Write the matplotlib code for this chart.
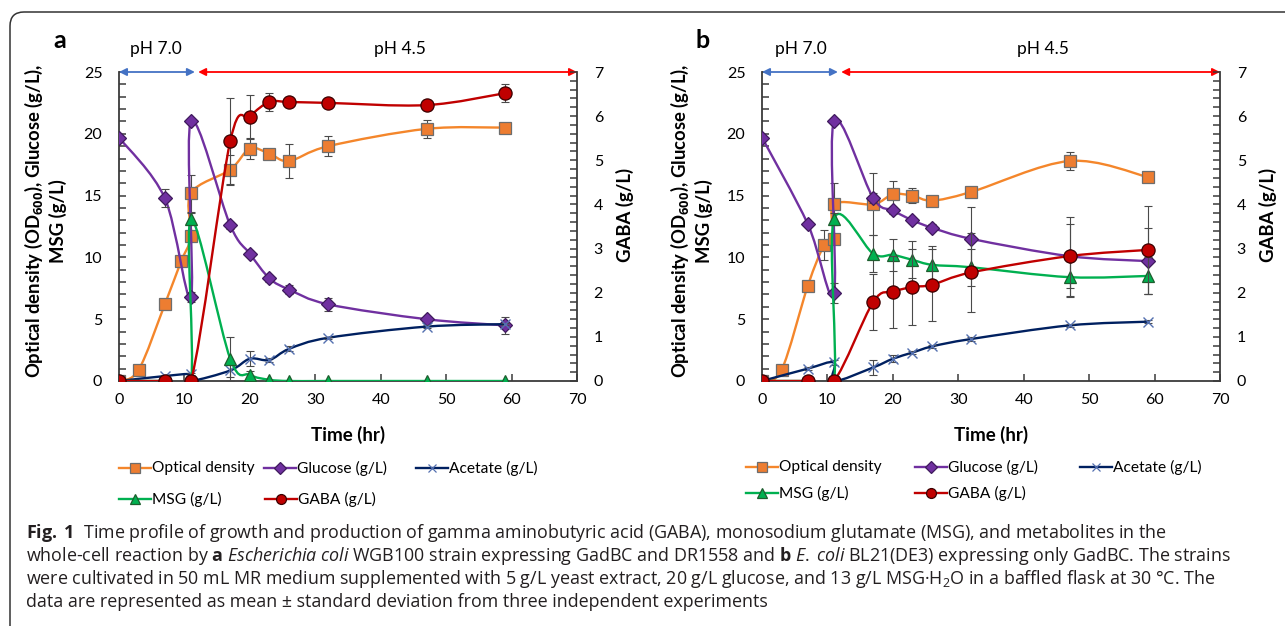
import numpy as np
import matplotlib
matplotlib.use("Agg")
import matplotlib.pyplot as plt
from matplotlib.path import Path
from matplotlib.patches import PathPatch, FancyBboxPatch
from matplotlib.lines import Line2D
from matplotlib.transforms import IdentityTransform
from matplotlib.ticker import MultipleLocator

# ---------------- data ----------------
series_names = ["Optical density", "Glucose (g/L)", "Acetate (g/L)", "MSG (g/L)", "GABA (g/L)"]

# panel a : E. coli WGB100 (GadBC + DR1558)
od_t_a = [0, 3, 7, 9.5, 11, 11, 17, 20, 23, 26, 32, 47, 59]
od_a = [0, 0.9, 6.2, 9.7, 11.7, 15.2, 17.1, 18.8, 18.4, 17.8, 19.0, 20.4, 20.5]
od_err_a = [0, 0.2, 0.3, 0, 0, 1.5, 1.2, 0.8, 0.3, 1.4, 0.8, 0.7, 0]

glc_t_a = [0, 7, 11, 11, 17, 20, 23, 26, 32, 47, 59]
glc_a = [19.7, 14.8, 6.8, 21.0, 12.6, 10.3, 8.3, 7.4, 6.2, 5.0, 4.5]
glc_err_a = [0.2, 0.7, 0.4, 0, 0.3, 0.2, 0.3, 0.4, 0.5, 0.2, 0.7]

ace_t_a = [0, 7, 11, 11, 17, 20, 23, 26, 32, 47, 59]
ace_a = [0, 0.4, 0.55, 0, 0.85, 1.8, 1.7, 2.6, 3.5, 4.4, 4.6]
ace_err_a = [0, 0.1, 0.1, 0, 0.5, 0.6, 0.2, 0.2, 0.1, 0.1, 0.1]

msg_t_a = [0, 7, 11, 11, 17, 20, 23, 26, 32, 47, 59]
msg_a = [0, 0, 0, 13.1, 1.8, 0.5, 0.1, 0, 0, 0, 0]
msg_err_a = [0, 0, 0, 0.5, 1.8, 0.3, 0, 0, 0, 0, 0]

gaba_t_a = [0, 7, 11, 17, 20, 23, 26, 32, 47, 59]
gaba_a = [0, 0, 0, 5.43, 5.99, 6.32, 6.32, 6.30, 6.25, 6.52]
gaba_err_a = [0, 0, 0, 0.98, 0.48, 0.2, 0.1, 0.05, 0.12, 0.2]

# panel b : E. coli BL21(DE3) (GadBC only)
od_t_b = [0, 3, 7, 9.5, 11, 11, 17, 20, 23, 26, 32, 47, 59]
od_b = [0, 0.9, 7.7, 11.0, 11.5, 14.3, 14.3, 15.1, 15.0, 14.6, 15.3, 17.8, 16.5]
od_err_b = [0, 0, 0, 1.2, 0, 1.7, 2.5, 1.1, 0.6, 0.3, 0, 0.7, 0]

glc_t_b = [0, 7, 11, 11, 17, 20, 23, 26, 32, 47, 59]
glc_b = [19.7, 12.7, 7.1, 21.0, 14.8, 13.8, 13.0, 12.4, 11.5, 10.1, 9.7]
glc_err_b = [0, 0, 0.8, 0, 0.4, 0.3, 0.2, 0.3, 2.6, 3.2, 2.7]

ace_t_b = [0, 7, 11, 11, 17, 20, 23, 26, 32, 47, 59]
ace_b = [0, 1.0, 1.5, 0, 1.1, 1.8, 2.3, 2.8, 3.4, 4.5, 4.8]
ace_err_b = [0, 0.1, 0.2, 0, 0.6, 0.3, 0.1, 0.1, 0.15, 0.1, 0.1]

msg_t_b = [0, 7, 11, 11, 17, 20, 23, 26, 32, 47, 59]
msg_b = [0, 0, 0, 13.1, 10.3, 10.2, 9.8, 9.4, 9.2, 8.4, 8.5]
msg_err_b = [0, 0, 0, 0.5, 1.5, 1.3, 1.5, 1.5, 1.5, 1.6, 1.5]

gaba_t_b = [0, 7, 11, 17, 20, 23, 26, 32, 47, 59]
gaba_b = [0, 0, 0, 1.79, 2.02, 2.13, 2.18, 2.46, 2.83, 2.97]
gaba_err_b = [0, 0, 0, 0.64, 0.81, 0.87, 0.81, 0.9, 0.73, 1.0]

x_ticks = [0, 10, 20, 30, 40, 50, 60, 70]

# ---------------- style ----------------
FONT = "Lato"
CAP_FONT = "Open Sans"
plt.rcParams["font.family"] = [FONT, "DejaVu Sans"]
plt.rcParams["mathtext.fontset"] = "custom"
plt.rcParams["mathtext.rm"] = CAP_FONT
plt.rcParams["mathtext.it"] = CAP_FONT + ":italic"
plt.rcParams["mathtext.bf"] = CAP_FONT + ":bold"

C_OD, C_GLC, C_ACE, C_MSG, C_GABA = "#F4862B", "#7030A0", "#002060", "#00B050", "#C00000"
styles = {
    "od": dict(color=C_OD, marker="s", mfc="#ED7D31", mec="#6d6d6d", ms=9),
    "glc": dict(color=C_GLC, marker="D", mfc="#7030A0", mec="#3f1a5c", ms=7.5),
    "ace": dict(color=C_ACE, marker="x", mfc="#5470B0", mec="#5470B0", ms=7),
    "msg": dict(color=C_MSG, marker="^", mfc="#00B050", mec="#1e5e2e", ms=9),
    "gaba": dict(color=C_GABA, marker="o", mfc="#C00000", mec="#3a0000", ms=9.5),
}
AXC = "#3a3a3a"
W, H = 1285, 626

fig = plt.figure(figsize=(W / 100, H / 100), dpi=100)


def smooth_path(x, y):
    P = np.column_stack([x, y]).astype(float)
    n = len(P)
    verts = [P[0]]
    codes = [Path.MOVETO]
    for i in range(n - 1):
        p0 = P[i - 1] if i > 0 else P[i]
        p1, p2 = P[i], P[i + 1]
        p3 = P[i + 2] if i + 2 < n else P[i + 1]
        verts += [p1 + (p2 - p0) / 6.0, p2 - (p3 - p1) / 6.0, p2]
        codes += [Path.CURVE4] * 3
    return Path(verts, codes)


def draw_series(ax, t, v, err, key, z):
    st = styles[key]
    ax.add_patch(PathPatch(smooth_path(t, v), fc="none", ec=st["color"], lw=1.7, zorder=z))
    t = np.asarray(t, float); v = np.asarray(v, float); e = np.asarray(err, float)
    m = e > 0
    if m.any():
        ax.errorbar(t[m], v[m], yerr=e[m], fmt="none", ecolor="#4a4a4a", elinewidth=0.8,
                    capsize=3, capthick=0.8, zorder=z + 0.1)
    ax.plot(t, v, ls="none", marker=st["marker"], mfc=st["mfc"], mec=st["mec"],
            ms=st["ms"], mew=0.9 if key != "ace" else 1.0, zorder=z + 0.2)


def panel(left_px, data, letter, ph7_x, ph45_x, ylab_x, glab_x):
    (odt, od, ode, gt, g, ge, at, a, ae, mt, m, me, bt, b, be) = data
    x0, x1, ytop, ybot = left_px, left_px + 458, 72, 381
    ax = fig.add_axes([x0 / W, 1 - ybot / H, (x1 - x0) / W, (ybot - ytop) / H])
    ax2 = ax.twinx()
    ax.set_xlim(0, 70); ax.set_ylim(0, 25)
    ax2.set_ylim(0, 7)
    ax.set_zorder(1); ax2.set_zorder(2)
    ax.patch.set_visible(False)
    draw_series(ax, odt, od, ode, "od", 2)
    draw_series(ax, gt, g, ge, "glc", 3)
    draw_series(ax, at, a, ae, "ace", 4)
    draw_series(ax, mt, m, me, "msg", 5)
    draw_series(ax2, bt, b, be, "gaba", 6)
    for a_ in (ax, ax2):
        a_.spines["top"].set_visible(False)
        for s in a_.spines.values():
            s.set_color(AXC); s.set_linewidth(1.3)
    ax.spines["right"].set_visible(False)
    ax2.spines["left"].set_visible(False); ax2.spines["bottom"].set_visible(False)
    ax.set_xticks(x_ticks)
    ax.xaxis.set_major_locator(MultipleLocator(10))
    ax.yaxis.set_major_locator(MultipleLocator(5))
    ax.yaxis.set_minor_locator(MultipleLocator(1))
    ax2.yaxis.set_major_locator(MultipleLocator(1))
    ax2.yaxis.set_minor_locator(MultipleLocator(0.2))
    ax.tick_params(axis="x", which="major", direction="in", length=5, width=1.1, color=AXC,
                   labelsize=11.5, pad=9, top=False)
    ax.tick_params(axis="y", which="both", direction="in", length=5, width=1.1, color=AXC,
                   labelsize=11.5, pad=12, right=False)
    ax2.tick_params(axis="y", which="both", direction="in", length=5, width=1.1, color=AXC,
                    labelsize=11.5, pad=12)
    # pH arrows
    ax.annotate("", xy=(0, 25), xytext=(11.6, 25), annotation_clip=False,
                arrowprops=dict(arrowstyle="<|-|>", color="#4472C4", lw=1.3, shrinkA=0, shrinkB=0,
                                mutation_scale=11), zorder=10)
    ax.annotate("", xy=(12.1, 25), xytext=(70, 25), annotation_clip=False,
                arrowprops=dict(arrowstyle="<|-|>", color="#FF0000", lw=1.3, shrinkA=0, shrinkB=0,
                                mutation_scale=11), zorder=10)
    ax.text(ph7_x, 26.9, "pH 7.0", ha="center", va="center", fontsize=12.5, clip_on=False)
    ax.text(ph45_x, 26.9, "pH 4.5", ha="center", va="center", fontsize=12.5, clip_on=False)
    ax.set_xlabel("Time (hr)", fontsize=13.5, fontweight="bold", labelpad=13)
    fig.text(ylab_x, H - 221, "Optical density (OD$_\\mathbf{600}$), Glucose (g/L),\nMSG (g/L)",
             rotation=90, ha="center", va="center", fontsize=13.3, fontweight="bold",
             multialignment="center", linespacing=1.2, transform=IdentityTransform())
    fig.text(glab_x, H - 215, "GABA (g/L)", rotation=90, ha="center", va="center", fontsize=13.3,
             fontweight="bold", transform=IdentityTransform())
    fig.text(left_px - 59, H - 40, letter, ha="center", va="center", fontsize=18,
             fontweight="bold", transform=IdentityTransform())
    return ax


panel(119, (od_t_a, od_a, od_err_a, glc_t_a, glc_a, glc_err_a, ace_t_a, ace_a, ace_err_a,
            msg_t_a, msg_a, msg_err_a, gaba_t_a, gaba_a, gaba_err_a),
      "a", 5.6, 43.0, 45, 625)
panel(762, (od_t_b, od_b, od_err_b, glc_t_b, glc_b, glc_err_b, ace_t_b, ace_b, ace_err_b,
            msg_t_b, msg_b, msg_err_b, gaba_t_b, gaba_b, gaba_err_b),
      "b", 5.9, 43.0, 691, 1268)


# ---------------- legends ----------------
def legend_item(x, y, key, label):
    st = styles[key]
    Y = H - y
    fig.add_artist(Line2D([x, x + 32], [Y, Y], color=st["color"], lw=1.7, transform=IdentityTransform()))
    fig.add_artist(Line2D([x + 16], [Y], ls="none", marker=st["marker"], mfc=st["mfc"], mec=st["mec"],
                          ms=st["ms"] * 0.75, mew=0.9, transform=IdentityTransform()))
    fig.text(x + 33, Y, label, ha="left", va="center", fontsize=11.2, transform=IdentityTransform())


keys = ["od", "glc", "ace", "msg", "gaba"]
pos_a = [(119, 468), (264, 468), (416, 468), (119, 499), (265, 499)]
pos_b = [(746, 467), (915, 467), (1080, 467), (746, 493), (915, 493)]
for k, nm, p in zip(keys, series_names, pos_a):
    legend_item(p[0], p[1], k, nm)
for k, nm, p in zip(keys, series_names, pos_b):
    legend_item(p[0], p[1], k, nm)

# ---------------- caption ----------------
cap_lines = [
    r"$\mathbf{Fig.\;1}$  Time profile of growth and production of gamma aminobutyric acid (GABA), monosodium glutamate (MSG), and metabolites in the",
    r"whole-cell reaction by $\mathbf{a}$ $\mathit{Escherichia\;coli}$ WGB100 strain expressing GadBC and DR1558 and $\mathbf{b}$ $\mathit{E.\;coli}$ BL21(DE3) expressing only GadBC. The strains",
    r"were cultivated in 50 mL MR medium supplemented with 5 g/L yeast extract, 20 g/L glucose, and 13 g/L MSG·H$_\mathrm{2}$O in a baffled flask at 30 °C. The",
    r"data are represented as mean ± standard deviation from three independent experiments",
]
cap_y = [533, 556, 579, 602]
for s, yy in zip(cap_lines, cap_y):
    fig.text(26, H - yy, s, ha="left", va="center", fontsize=12.9, color="#231f20",
             family=[CAP_FONT, "DejaVu Sans"], transform=IdentityTransform())

# frame
fig.add_artist(FancyBboxPatch((10, -30), 1320, H - 12 + 30, boxstyle="round,pad=0,rounding_size=14",
                              fc="none", ec="#333333", lw=1.1, transform=IdentityTransform()))

fig.savefig("out.png", dpi=100)
